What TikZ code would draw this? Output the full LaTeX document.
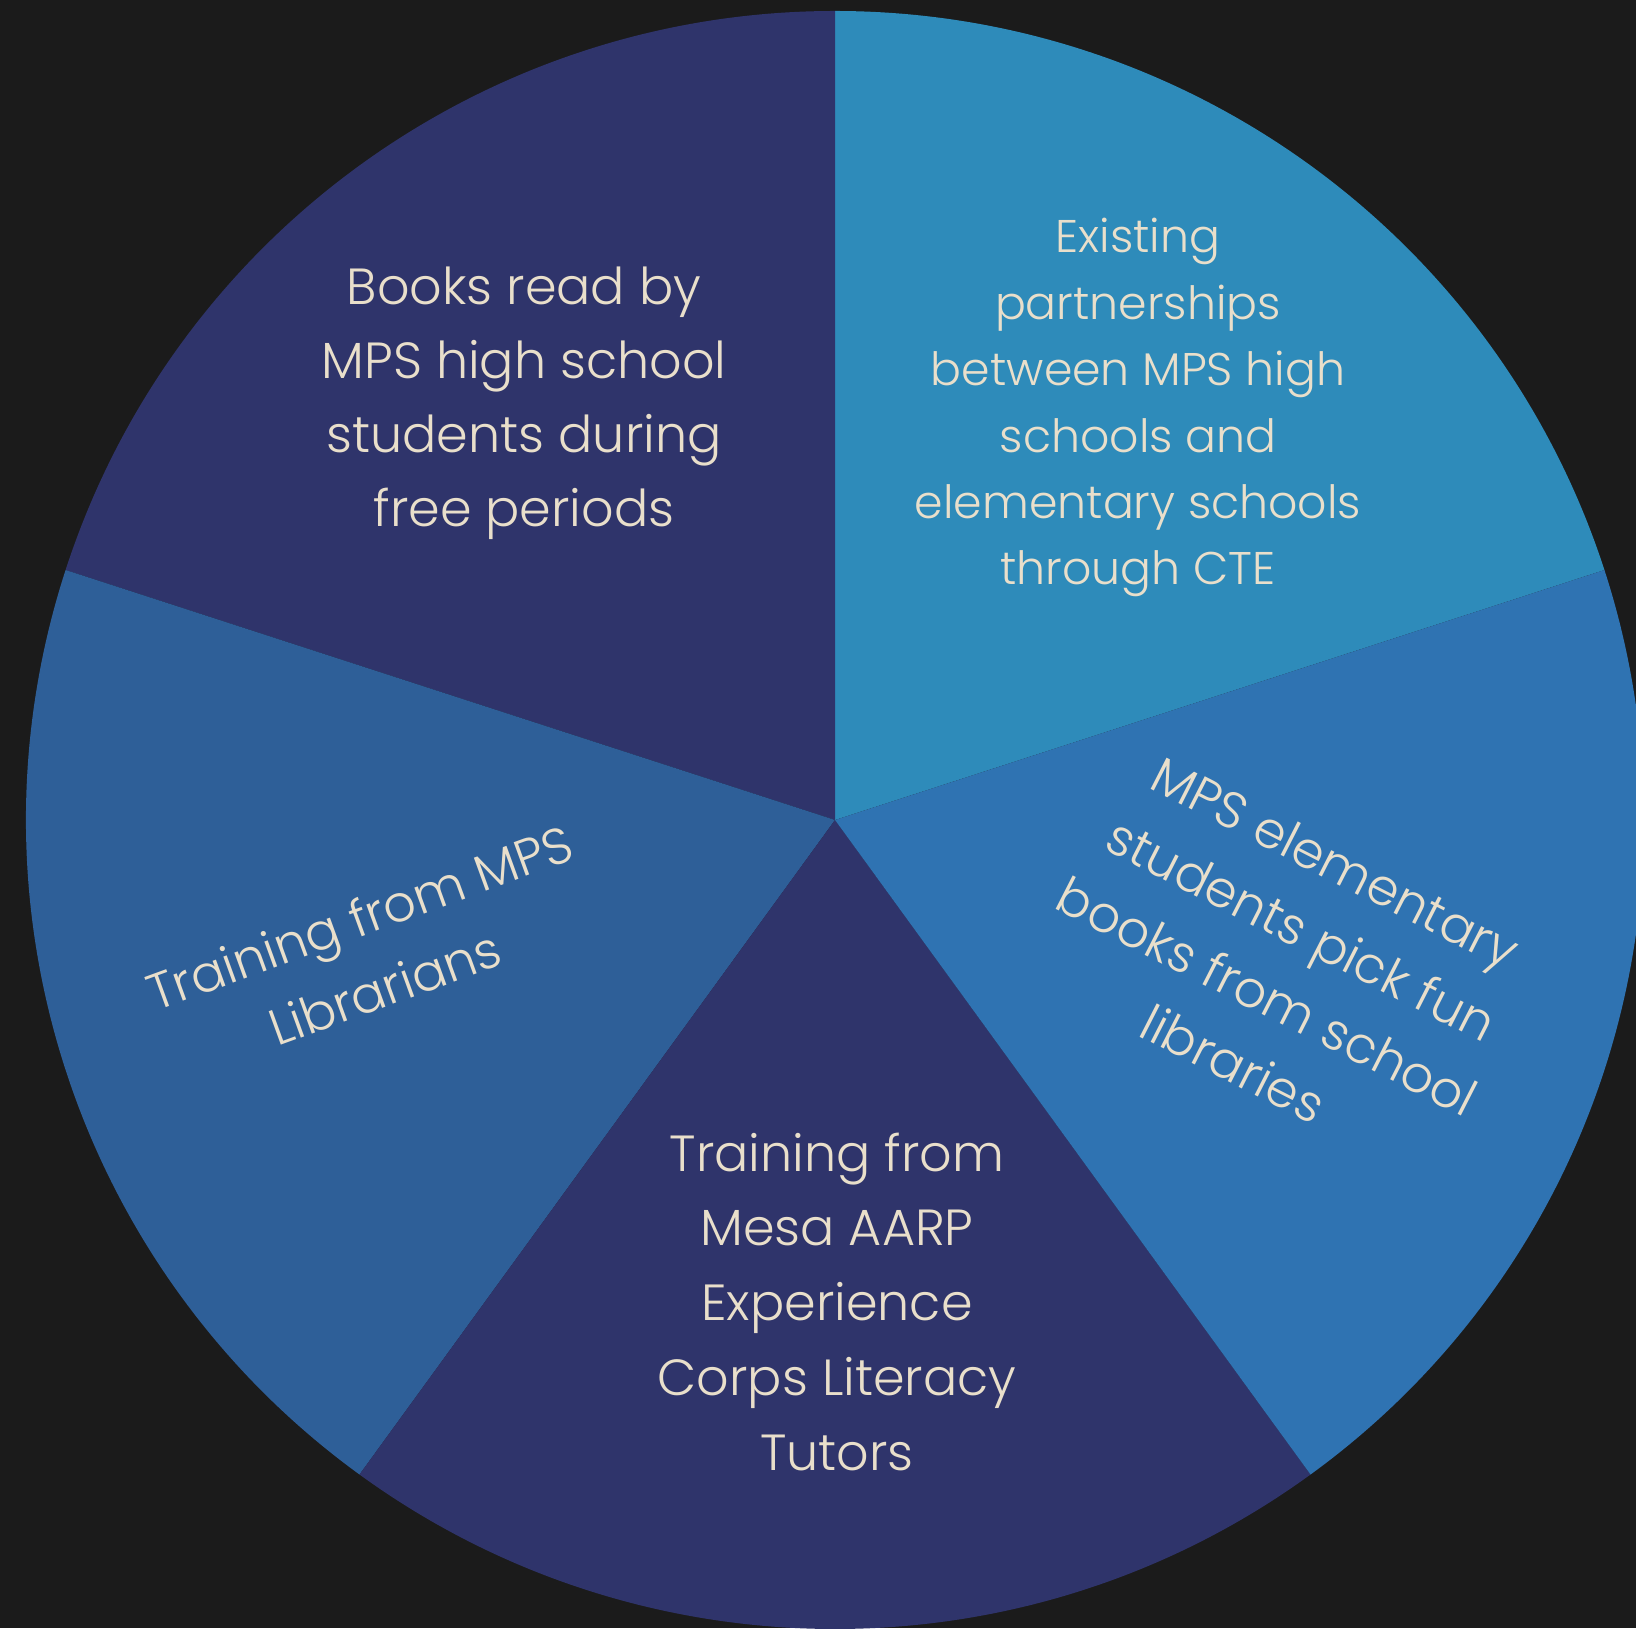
\documentclass[tikz,border=0pt]{standalone}
\usepackage{fontspec}
\setmainfont{Poppins Light}
\definecolor{bg}{HTML}{1B1B1B}
\definecolor{navy}{HTML}{2F346B}
\definecolor{teal}{HTML}{2E8BBA}
\definecolor{midblue}{HTML}{2F73B2}
\definecolor{steel}{HTML}{2E5F98}
\definecolor{cream}{HTML}{E9DFCB}
\tikzset{
  slice/.style={draw=none},
  lbl/.style={text=cream, inner sep=0pt, anchor=base, font=\fontsize{25.4}{30}\selectfont},
  lblsmall/.style={lbl, font=\fontsize{22.9}{28}\selectfont}
}
\begin{document}
\begin{tikzpicture}[x=0.5pt,y=0.5pt]
\fill[bg] (0,0) rectangle (1636,1628);
\useasboundingbox (0,0) rectangle (1636,1628);
\coordinate (C) at (835,808);
\def\R{809}
% slices
\fill[teal]    (C) -- ++(18:\R)   arc[start angle=18,  end angle=90,  radius=\R] -- cycle;
\fill[navy]    (C) -- ++(90:\R)   arc[start angle=90,  end angle=162, radius=\R] -- cycle;
\fill[steel]   (C) -- ++(162:\R)  arc[start angle=162, end angle=234, radius=\R] -- cycle;
\fill[navy]    (C) -- ++(234:\R)  arc[start angle=234, end angle=306, radius=\R] -- cycle;
\fill[midblue] (C) -- ++(-54:\R)  arc[start angle=-54, end angle=18,  radius=\R] -- cycle;
% top-left
\node[lbl] (tl1) at (524,1323) {Books read by};
\node[lbl] (tl2) at (524,1249) {MPS high school};
\node[lbl] (tl3) at (524,1175) {students during};
\node[lbl] (tl4) at (524,1101) {free periods};
% top-right
\node[lblsmall] (tr1) at (1138,1375) {Existing};
\node[lblsmall] (tr2) at (1138,1308.6) {partnerships};
\node[lblsmall] (tr3) at (1138,1242.2) {between MPS high};
\node[lblsmall] (tr4) at (1138,1175.8) {schools and};
\node[lblsmall] (tr5) at (1138,1109.4) {elementary schools};
\node[lblsmall] (tr6) at (1138,1043) {through CTE};
% bottom
\node[lbl] (b1) at (837,457) {Training from};
\node[lbl] (b2) at (837,382.2) {Mesa AARP};
\node[lbl] (b3) at (837,307.4) {Experience};
\node[lbl] (b4) at (837,232.6) {Corps Literacy};
\node[lbl] (b5) at (837,157.8) {Tutors};
% left
\node[lbl,rotate=20] (l1) at (366,693) {Training from MPS};
\node[lbl,rotate=20] (l2) at (391,623) {Librarians};
% right
\node[lbl,rotate=-27] (r1) at (1327,749) {MPS elementary};
\node[lbl,rotate=-27] (r2) at (1293,682) {students pick fun};
\node[lbl,rotate=-27] (r3) at (1259,615) {books from school};
\node[lbl,rotate=-27] (r4) at (1225,548) {libraries};
\end{tikzpicture}
\end{document}
